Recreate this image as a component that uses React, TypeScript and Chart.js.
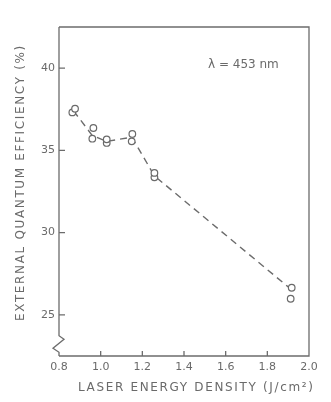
import React, { useEffect, useRef } from "react";
import { Chart, registerables } from "chart.js";

Chart.register(...registerables);

// Measured points (laser energy density J/cm^2, external quantum efficiency %)
const energyDensity = [0.864, 0.877, 0.96, 0.965, 1.029, 1.029, 1.149, 1.152, 1.258, 1.258, 1.912, 1.917];
const quantumEfficiency = [37.31, 37.53, 35.71, 36.36, 35.45, 35.67, 35.55, 36.0, 33.36, 33.63, 25.98, 26.65];

// Dashed guide line
const guideEnergy = [0.87, 0.96, 1.029, 1.15, 1.258, 1.9];
const guideEfficiency = [37.4, 35.9, 35.55, 35.8, 33.45, 26.7];

// Axes
const xTickValues = [0.8, 1.0, 1.2, 1.4, 1.6, 1.8, 2.0];
const yTickValues = [25, 30, 35, 40];
const xRange = [0.8, 2.0];
const yRange = [22.5, 42.5];
const yBreakValue = 23.73;

const xTitle = "LASER ENERGY DENSITY (J/cm²)";
const yTitle = "EXTERNAL QUANTUM EFFICIENCY (%)";
const annotation = "λ = 453 nm";

const INK = "#6a6a6a";
const LINE = "#6c6c6c";
const FONT = '"DejaVu Sans"';

const framePlugin = {
  id: "framePlugin",
  beforeDraw(chart: any) {
    chart.ctx.letterSpacing = "0px";
  },
  afterDraw(chart: any) {
    const { ctx, chartArea, scales } = chart;
    const { left, right, top, bottom } = chartArea;
    const x = scales.x;
    const y = scales.y;
    ctx.save();
    ctx.strokeStyle = LINE;
    ctx.lineWidth = 1.3;
    ctx.setLineDash([]);
    // top, right, bottom sides of frame
    ctx.beginPath();
    ctx.moveTo(left, top);
    ctx.lineTo(right, top);
    ctx.lineTo(right, bottom);
    ctx.lineTo(left, bottom);
    ctx.stroke();
    // left axis with break
    const yb = y.getPixelForValue(yBreakValue);
    ctx.beginPath();
    ctx.moveTo(left, top);
    ctx.lineTo(left, yb);
    ctx.lineTo(left + 5, yb + 3.5);
    ctx.lineTo(left - 6, yb + 12.5);
    ctx.lineTo(left, yb + 16.5);
    ctx.lineTo(left, bottom);
    ctx.stroke();
    // inward tick marks
    ctx.beginPath();
    xTickValues.forEach((v) => {
      const px = x.getPixelForValue(v);
      if (px > left + 2 && px < right - 2) {
        ctx.moveTo(px, bottom);
        ctx.lineTo(px, bottom - 5);
      }
    });
    yTickValues.forEach((v) => {
      const py = y.getPixelForValue(v);
      ctx.moveTo(left, py);
      ctx.lineTo(left + 6, py);
    });
    ctx.stroke();

    // titles
    ctx.fillStyle = INK;
    ctx.font = `12px ${FONT}`;
    ctx.letterSpacing = "1.65px";
    ctx.textBaseline = "middle";
    ctx.textAlign = "left";
    ctx.fillText(xTitle, left + 19, bottom + 32);
    ctx.save();
    ctx.translate(21, bottom - 35);
    ctx.rotate(-Math.PI / 2);
    ctx.fillText(yTitle, 0, 0);
    ctx.restore();

    // annotation
    ctx.letterSpacing = "0px";
    ctx.font = `12px ${FONT}`;
    ctx.fillText(annotation, right - 101, top + 38);
    ctx.restore();
  },
};

export default function App() {
  const ref = useRef<HTMLCanvasElement | null>(null);
  useEffect(() => {
    if (!ref.current) return;
    const chart = new Chart(ref.current, {
      type: "scatter",
      data: {
        datasets: [
          {
            label: "measured",
            data: energyDensity.map((e, i) => ({ x: e, y: quantumEfficiency[i] })),
            showLine: false,
            pointStyle: "circle",
            pointRadius: 3.3,
            pointBorderWidth: 1.2,
            pointBorderColor: INK,
            pointBackgroundColor: "#ffffff",
          },
          {
            label: "guide",
            data: guideEnergy.map((e, i) => ({ x: e, y: guideEfficiency[i] })),
            showLine: true,
            borderColor: LINE,
            borderWidth: 1.4,
            borderDash: [7, 5],
            pointRadius: 0,
            tension: 0,
          },
        ],
      },
      options: {
        responsive: false,
        animation: false,
        events: [],
        layout: { padding: { top: 27, right: 22, left: 0, bottom: 0 } },
        plugins: { legend: { display: false }, tooltip: { enabled: false } },
        scales: {
          x: {
            type: "linear",
            min: xRange[0],
            max: xRange[1],
            grid: { display: false, drawTicks: false },
            border: { display: false },
            afterBuildTicks: (s: any) => {
              s.ticks = xTickValues.map((v) => ({ value: v }));
            },
            afterFit: (s: any) => {
              s.height = 46;
            },
            ticks: {
              autoSkip: false,
              maxRotation: 0,
              padding: 5,
              color: INK,
              font: { family: FONT, size: 11 },
              callback: (v: any) => Number(v).toFixed(1),
            },
          },
          y: {
            type: "linear",
            min: yRange[0],
            max: yRange[1],
            grid: { display: false, drawTicks: false },
            border: { display: false },
            afterBuildTicks: (s: any) => {
              s.ticks = yTickValues.map((v) => ({ value: v }));
            },
            afterFit: (s: any) => {
              s.width = 59;
            },
            ticks: {
              autoSkip: false,
              padding: 4,
              color: INK,
              font: { family: FONT, size: 11 },
              callback: (v: any) => String(v),
            },
          },
        },
      },
      plugins: [framePlugin],
    });
    return () => chart.destroy();
  }, []);
  return (
    <div style={{ position: "absolute", left: 0, top: 0, width: 331, height: 402, background: "#fff" }}>
      <canvas ref={ref} width={331} height={402} style={{ display: "block" }} />
    </div>
  );
}
